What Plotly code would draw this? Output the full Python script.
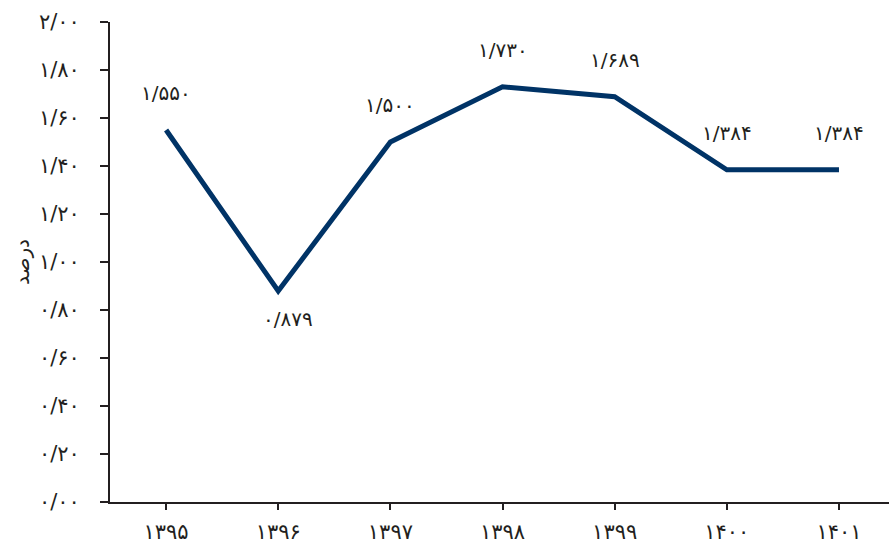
import plotly.graph_objects as go

# Annual values (percent), Persian calendar years
years = ["۱۳۹۵", "۱۳۹۶", "۱۳۹۷", "۱۳۹۸", "۱۳۹۹", "۱۴۰۰", "۱۴۰۱"]
values = [1.550, 0.879, 1.500, 1.730, 1.689, 1.384, 1.384]
y_ticks = [0.0, 0.2, 0.4, 0.6, 0.8, 1.0, 1.2, 1.4, 1.6, 1.8, 2.0]

FA_DIGITS = str.maketrans("0123456789", "۰۱۲۳۴۵۶۷۸۹")


def fa_num(v, decimals):
    return f"{v:.{decimals}f}".replace(".", "/").translate(FA_DIGITS)


LINE_COLOR = "#003366"
AXIS_COLOR = "#231f20"
FONT = "DejaVu Sans"

fig = go.Figure()
fig.add_trace(go.Scatter(
    x=years, y=values, mode="lines",
    line=dict(color=LINE_COLOR, width=5),
    hoverinfo="skip",
))

# value labels: above each point, except the dip which is labelled below
for i, (yr, v) in enumerate(zip(years, values)):
    below = i == 1
    fig.add_annotation(
        x=yr, y=v, text=fa_num(v, 3), showarrow=False,
        xshift=10 if below else 0, yshift=-28 if below else 37,
        font=dict(family=FONT, size=20, color="#231f20"),
    )

fig.update_layout(
    width=889, height=544,
    margin=dict(l=110, r=0, t=22, b=42),
    paper_bgcolor="white", plot_bgcolor="white",
    showlegend=False,
    font=dict(family=FONT, color="#231f20"),
    xaxis=dict(
        type="category", range=[-0.5, 6.446],
        showline=True, linecolor=AXIS_COLOR, linewidth=2,
        ticks="outside", ticklen=6, tickwidth=2, tickcolor=AXIS_COLOR,
        showgrid=False, zeroline=False,
        tickfont=dict(family=FONT, size=21),
        ticklabelstandoff=4,
    ),
    yaxis=dict(
        range=[0, 2.0],
        tickvals=y_ticks, ticktext=[fa_num(t, 2) for t in y_ticks],
        showline=True, linecolor=AXIS_COLOR, linewidth=2,
        ticks="outside", ticklen=8, tickwidth=2, tickcolor=AXIS_COLOR,
        showgrid=False, zeroline=False,
        tickfont=dict(family=FONT, size=21),
        ticklabelstandoff=16,
        title=dict(text="درصد", font=dict(family=FONT, size=20), standoff=4),
    ),
)

fig.write_html("out.html")
